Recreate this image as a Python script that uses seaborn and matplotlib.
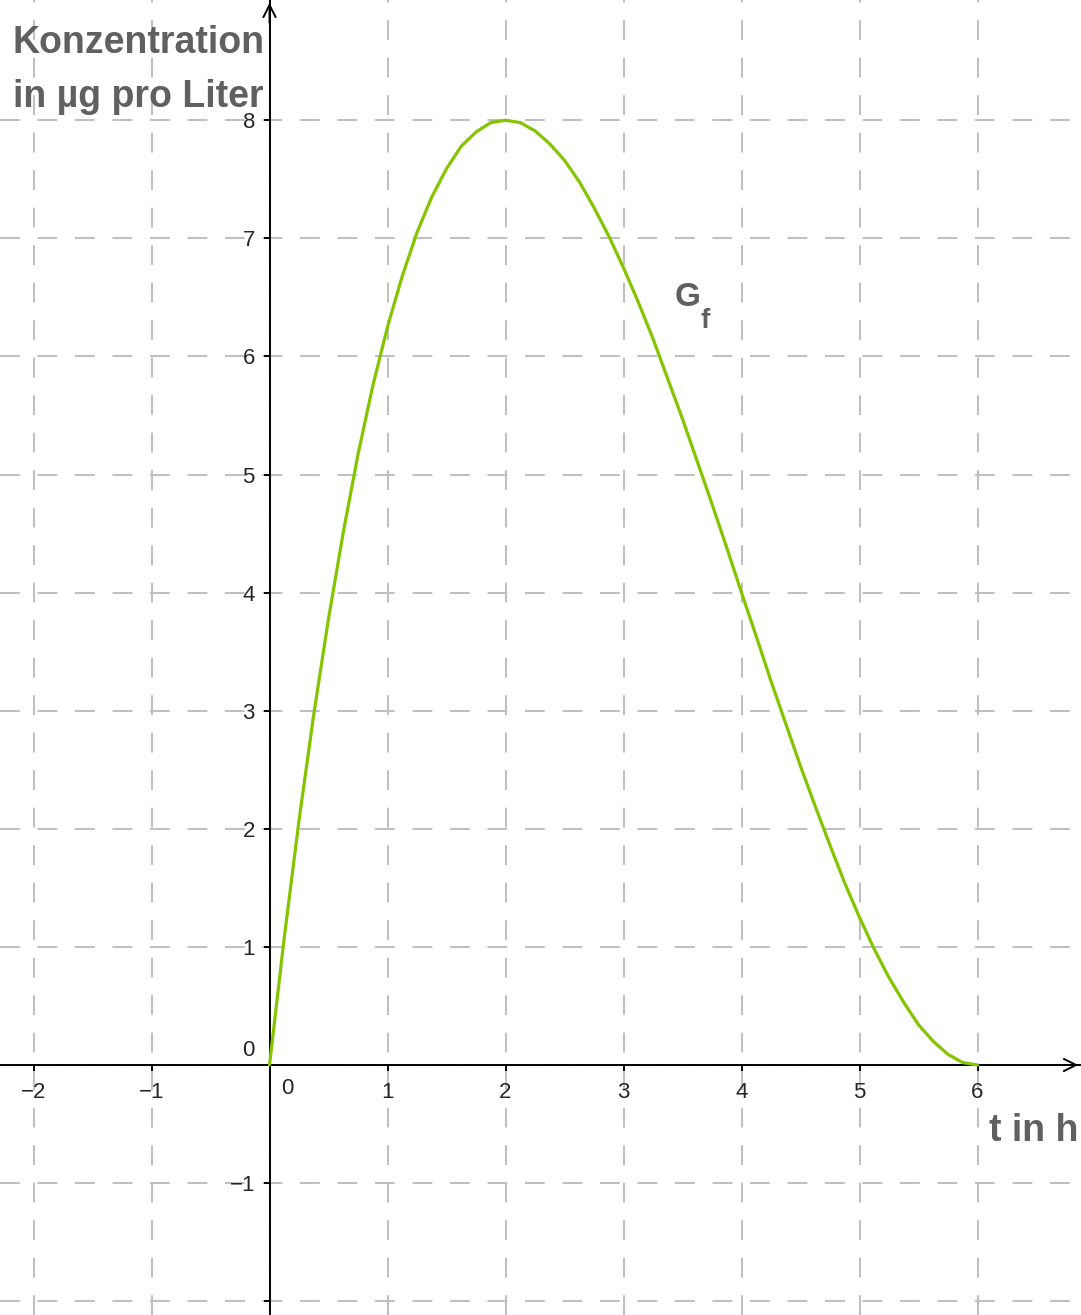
import matplotlib
matplotlib.use("Agg")
import matplotlib.pyplot as plt
import pandas as pd
import seaborn as sns

t_hours = [0.0, 0.125, 0.25, 0.375, 0.5, 0.625, 0.75, 0.875, 1.0, 1.125, 1.25, 1.375,
           1.5, 1.625, 1.75, 1.875, 2.0, 2.125, 2.25, 2.375, 2.5, 2.625, 2.75, 2.875,
           3.0, 3.125, 3.25, 3.375, 3.5, 3.625, 3.75, 3.875, 4.0, 4.125, 4.25, 4.375,
           4.5, 4.625, 4.75, 4.875, 5.0, 5.125, 5.25, 5.375, 5.5, 5.625, 5.75, 5.875, 6.0]
konzentration = [0.0, 1.08, 2.07, 2.97, 3.78, 4.51, 5.17, 5.75, 6.25, 6.68, 7.05, 7.35,
                 7.59, 7.78, 7.90, 7.98, 8.0, 7.98, 7.91, 7.80, 7.66, 7.48, 7.26, 7.02,
                 6.75, 6.46, 6.15, 5.81, 5.47, 5.11, 4.75, 4.38, 4.0, 3.63, 3.25, 2.89,
                 2.53, 2.19, 1.86, 1.54, 1.25, 0.98, 0.74, 0.53, 0.34, 0.20, 0.09, 0.02, 0.0]

x_ticks = [-2, -1, 1, 2, 3, 4, 5, 6]
y_ticks = [-2, -1, 1, 2, 3, 4, 5, 6, 7, 8]
grid_x = list(range(-2, 7))
grid_y = list(range(-2, 9))


def minus_label(v):
    return "\u2212" + str(-v) if v < 0 else str(v)


sns.set_style("white")
plt.rcParams["font.family"] = ["Liberation Sans", "DejaVu Sans"]

df = pd.DataFrame({"t": t_hours, "c": konzentration})

fig = plt.figure(figsize=(10.81, 13.15), dpi=100)
ax = fig.add_axes([0, 0, 1, 1])
ax.set_xlim(-2.284, 6.877)
ax.set_ylim(-2.117, 9.018)

# dashed grid
for gx in grid_x:
    ax.axvline(gx, color="#c0c0c0", lw=1.5, ls=(0, (9.5, 8.5)), zorder=0)
for gy in grid_y:
    ax.axhline(gy, color="#c0c0c0", lw=1.5, ls=(0, (9.5, 8.5)), zorder=0)

sns.lineplot(data=df, x="t", y="c", color="#84C400", lw=2.3, ax=ax, zorder=3)

# axes through the origin
for side in ["top", "right"]:
    ax.spines[side].set_visible(False)
ax.spines["left"].set_position(("data", 0))
ax.spines["bottom"].set_position(("data", 0))
for side in ["left", "bottom"]:
    ax.spines[side].set_linewidth(1.4)
    ax.spines[side].set_color("black")
ax.set_xlabel("")
ax.set_ylabel("")
ax.set_xticks(x_ticks)
ax.set_yticks(y_ticks)
ax.set_xticklabels([minus_label(v) for v in x_ticks], fontsize=16)
ax.set_yticklabels([minus_label(v) if v != -2 else "" for v in y_ticks], fontsize=16)
ax.tick_params(axis="both", direction="out", length=4.5, width=1.4, color="black",
               bottom=True, left=True)
ax.tick_params(axis="x", pad=8)
ax.tick_params(axis="y", pad=6)

# zero labels
ax.text(0.15, -0.11, "0", fontsize=16, ha="center", va="top")
ax.text(-0.13, 0.03, "0", fontsize=16, ha="right", va="bottom")

# arrows
ax.annotate("", xy=(6.877, 0), xytext=(6.7, 0),
            arrowprops=dict(arrowstyle="->", lw=1.4, color="black", mutation_scale=22))
ax.annotate("", xy=(0, 9.018), xytext=(0, 8.8),
            arrowprops=dict(arrowstyle="->", lw=1.4, color="black", mutation_scale=22))

# labels
gray = "#606060"
ax.text(0.012, 0.960, "Konzentration", transform=ax.transAxes, fontsize=27,
        fontweight="bold", color=gray, ha="left", va="baseline")
ax.text(0.012, 0.919, "in \u00b5g pro Liter", transform=ax.transAxes, fontsize=27,
        fontweight="bold", color=gray, ha="left", va="baseline")
ax.text(6.1, -0.64, "t in h", fontsize=27, fontweight="bold", color=gray,
        ha="left", va="baseline")
ax.text(3.43, 6.43, "G", fontsize=24, fontweight="bold", color=gray,
        ha="left", va="baseline")
ax.text(3.655, 6.24, "f", fontsize=20, fontweight="bold", color=gray,
        ha="left", va="baseline")

fig.savefig("out.png", dpi=100)
